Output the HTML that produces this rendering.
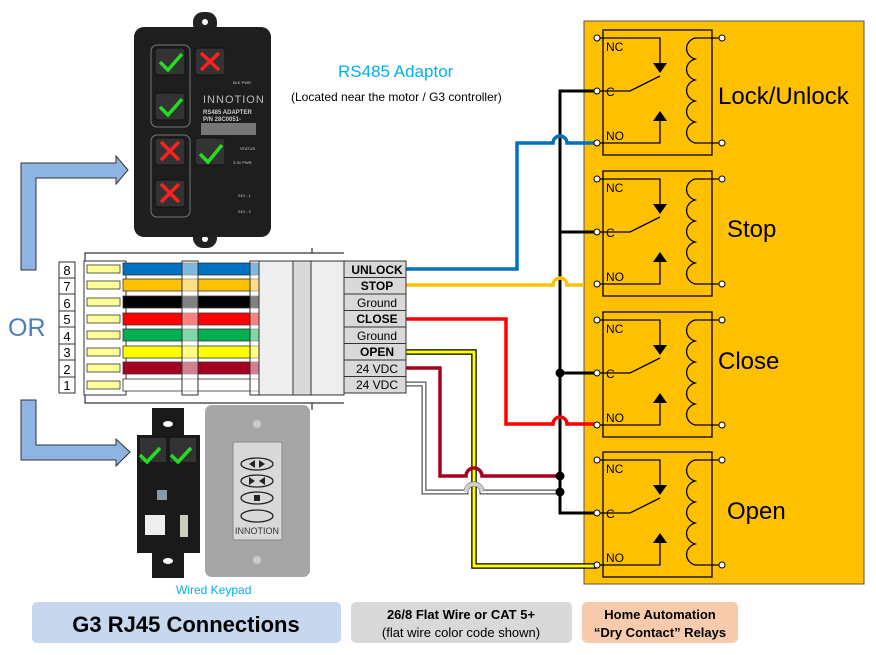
<!DOCTYPE html>
<html><head><meta charset="utf-8"><style>
html,body{margin:0;padding:0;background:#fff;}
svg{display:block;font-family:"Liberation Sans",sans-serif;}
</style></head><body>
<svg width="876" height="655" viewBox="0 0 876 655" xmlns="http://www.w3.org/2000/svg">
<defs>
<g id="relay">
  <rect x="603" y="30" width="109" height="125" fill="none" stroke="#000" stroke-width="1.3"/>
  <path d="M597 38 H660 V63" fill="none" stroke="#000" stroke-width="1.3"/>
  <polygon points="653,63 667,63 660,73" fill="#000"/>
  <path d="M597 91 H630 L660 76" fill="none" stroke="#000" stroke-width="1.3"/>
  <path d="M597 143 H660 V120" fill="none" stroke="#000" stroke-width="1.3"/>
  <polygon points="653,121 667,121 660,111" fill="#000"/>
  <path d="M722 38 H695 A12 11 0 0 0 695 59 A12 11 0 0 0 695 80 A12 11 0 0 0 695 101 A12 11 0 0 0 695 122 A12 11 0 0 0 695 143 H722" fill="none" stroke="#000" stroke-width="1.3"/>
  <text x="606" y="51" font-size="12">NC</text>
  <text x="606" y="96" font-size="12">C</text>
  <text x="606" y="140" font-size="12">NO</text>
  <circle cx="597" cy="38" r="3" fill="#fff" stroke="#000"/>
  <circle cx="597" cy="91" r="3" fill="#fff" stroke="#000"/>
  <circle cx="597" cy="143" r="3" fill="#fff" stroke="#000"/>
  <circle cx="722" cy="38" r="3" fill="#fff" stroke="#000"/>
  <circle cx="722" cy="143" r="3" fill="#fff" stroke="#000"/>
</g>
</defs>

<!-- relay panel -->
<rect x="584" y="21" width="280" height="563" fill="#ffc000" stroke="#555" stroke-width="1"/>
<text x="718" y="104" font-size="24">Lock/Unlock</text>
<text x="727" y="237" font-size="24">Stop</text>
<text x="718" y="369" font-size="24">Close</text>
<text x="727" y="519" font-size="24">Open</text>

<!-- black bus -->
<path d="M597 91 H560 V513 H597 M560 232 H597 M560 373 H597" fill="none" stroke="#000" stroke-width="3"/>

<!-- wires -->
<g fill="none" stroke-width="3.5" stroke-linejoin="miter">
  <path d="M406 269 H517 V143 H553 A7 7 0 0 1 567 143 H597" stroke="#0070c0"/>
  <path d="M406 285 H553 A7 7 0 0 1 567 285 H584" stroke="#ffc000"/>
  <path d="M406 319 H506 V424 H553 A7 7 0 0 1 567 424 H597" stroke="#ff0000"/>
  <path d="M406 352 H474 V566 H597" stroke="#000" stroke-width="5.5"/>
  <path d="M406 352 H474 V566 H597" stroke="#ffff00" stroke-width="3"/>
  <path d="M406 368 H440 V476 H466 A8 8 0 0 1 482 476 H560" stroke="#a50021"/>
  <path d="M406 384 H424 V492 H466 A8 8 0 0 1 482 492 H560" stroke="#555" stroke-width="5"/>
  <path d="M406 384 H424 V492 H466 A8 8 0 0 1 482 492 H560" stroke="#fff" stroke-width="2.5"/>
  <path d="M466 492 A8 8 0 0 1 482 492" stroke="#d0d0d0" stroke-width="4"/>
</g>
<circle cx="560" cy="373" r="4.5" fill="#000"/>
<circle cx="560" cy="476" r="4.5" fill="#000"/>
<circle cx="560" cy="492" r="4.5" fill="#000"/>

<use href="#relay"/>
<use href="#relay" transform="translate(0,141)"/>
<use href="#relay" transform="translate(0,282)"/>
<use href="#relay" transform="translate(0,422)"/>

<!-- arrows -->
<path d="M21 270 V163 H116 V156 L128 170 L116 184 V178 H36 V270 Z" fill="#8eb4e3" stroke="#333" stroke-width="1"/>
<path d="M21 400 V460 H116 V466 L130 452 L116 439 V445 H36 V400 Z" fill="#8eb4e3" stroke="#333" stroke-width="1"/>
<text x="8" y="336" font-size="25" fill="#4a7ebb">OR</text>

<!-- RS485 adapter -->
<rect x="193" y="12" width="24" height="22" rx="10" fill="#222"/>
<circle cx="205" cy="22" r="3" fill="#fff"/>
<rect x="193" y="226" width="24" height="22" rx="10" fill="#222"/>
<circle cx="205" cy="239" r="3" fill="#fff"/>
<rect x="134" y="27" width="137" height="210" rx="10" fill="#1e1e1e"/>
<rect x="151" y="45" width="39" height="82" rx="6" fill="none" stroke="#777"/>
<rect x="151" y="135" width="39" height="82" rx="6" fill="none" stroke="#777"/>
<g fill="#333" stroke="#111">
 <rect x="155" y="48" width="30" height="27" rx="3"/><rect x="195" y="48" width="30" height="27" rx="3"/>
 <rect x="155" y="93" width="30" height="27" rx="3"/><rect x="155" y="138" width="30" height="27" rx="3"/>
 <rect x="195" y="138" width="30" height="27" rx="3"/><rect x="155" y="180" width="30" height="27" rx="3"/>
</g>
<g stroke="#22dd22" stroke-width="3.5" fill="none">
 <path d="M160 62 L168 70 L182 54"/><path d="M160 107 L168 115 L182 99"/><path d="M200 154 L208 162 L222 145"/>
</g>
<g stroke="#ff2020" stroke-width="3.5">
 <path d="M201 53 L219 70 M219 53 L201 70"/><path d="M161 142 L179 160 M179 142 L161 160"/><path d="M161 184 L179 202 M179 184 L161 202"/>
</g>
<text x="203" y="103" font-size="11" fill="#bbb" letter-spacing="1">INNOTION</text>
<text x="203" y="114" font-size="6" fill="#ccc" font-weight="bold">RS485 ADAPTER</text>
<text x="203" y="121" font-size="6" fill="#ccc" font-weight="bold">P/N 28C0051-</text>
<rect x="201" y="123" width="55" height="12" fill="#777"/>
<g font-size="4" fill="#ccc"><text x="240" y="150">STATUS</text><text x="233" y="164">3.3V PWR</text><text x="238" y="197">24V - 1</text><text x="238" y="213">24V - 2</text><text x="233" y="84">BLE PWR</text></g>
<text x="338" y="77" font-size="17" fill="#00b0f0">RS485 Adaptor</text>
<text x="291" y="101" font-size="12" fill="#000">(Located near the motor / G3 controller)</text>

<!-- connector -->
<path d="M85 261 V253 H344 M85 395 V403 H344 M312 253 V248 M312 403 V410" fill="none" stroke="#333" stroke-width="1.2"/>
<rect x="84" y="261" width="42" height="134" fill="none" stroke="#333"/>
<g font-size="13" text-anchor="middle">
<g stroke="#333" fill="#fff">
<rect x="59" y="262" width="16" height="16"/><rect x="59" y="278" width="16" height="16"/><rect x="59" y="294" width="16" height="17"/><rect x="59" y="311" width="16" height="16"/><rect x="59" y="327" width="16" height="17"/><rect x="59" y="344" width="16" height="16"/><rect x="59" y="360" width="16" height="17"/><rect x="59" y="377" width="16" height="16"/>
</g>
<g fill="#000"><text x="67" y="275">8</text><text x="67" y="291">7</text><text x="67" y="308">6</text><text x="67" y="324">5</text><text x="67" y="341">4</text><text x="67" y="357">3</text><text x="67" y="374">2</text><text x="67" y="390">1</text></g>
</g>
<g fill="#ffff99" stroke="#333" stroke-width="0.8">
<rect x="87" y="265" width="33" height="8"/><rect x="87" y="281" width="33" height="8"/><rect x="87" y="298" width="33" height="8"/><rect x="87" y="315" width="33" height="8"/><rect x="87" y="331" width="33" height="8"/><rect x="87" y="348" width="33" height="8"/><rect x="87" y="364" width="33" height="8"/><rect x="87" y="381" width="33" height="8"/>
</g>
<g stroke="#333" stroke-width="0.8">
<rect x="123" y="263" width="136" height="12" fill="#0070c0"/>
<rect x="123" y="279" width="136" height="12" fill="#ffc000"/>
<rect x="123" y="296" width="136" height="12" fill="#000"/>
<rect x="123" y="313" width="136" height="12" fill="#ff0000"/>
<rect x="123" y="329" width="136" height="12" fill="#00b050"/>
<rect x="123" y="346" width="136" height="12" fill="#ffff00"/>
<rect x="123" y="362" width="136" height="12" fill="#a50021"/>
<rect x="123" y="379" width="136" height="12" fill="#fff"/>
</g>
<rect x="182" y="261" width="16" height="134" fill="#fff" fill-opacity="0.5" stroke="#333"/>
<rect x="250" y="261" width="10" height="134" fill="#fff" fill-opacity="0.5" stroke="#333"/>
<rect x="259" y="261" width="34" height="134" fill="#eee" stroke="#333"/>
<rect x="293" y="261" width="18" height="134" fill="#d9d9d9" stroke="#333"/>
<rect x="311" y="261" width="33" height="134" fill="#eee" stroke="#333"/>
<g stroke="#333" fill="#d9d9d9">
<rect x="344" y="261" width="62" height="16.5"/><rect x="344" y="277.5" width="62" height="16.5"/><rect x="344" y="294" width="62" height="16.5"/><rect x="344" y="310.5" width="62" height="16.5"/><rect x="344" y="327" width="62" height="16.5"/><rect x="344" y="343.5" width="62" height="16.5"/><rect x="344" y="360" width="62" height="16.5"/><rect x="344" y="376.5" width="62" height="16.5"/>
</g>
<g font-size="12" text-anchor="middle" fill="#000">
<text x="377" y="274" font-weight="bold">UNLOCK</text><text x="377" y="290" font-weight="bold">STOP</text><text x="377" y="307">Ground</text><text x="377" y="323" font-weight="bold">CLOSE</text><text x="377" y="340">Ground</text><text x="377" y="356" font-weight="bold">OPEN</text><text x="377" y="373">24 VDC</text><text x="377" y="389">24 VDC</text>
</g>

<!-- keypad PCB -->
<rect x="152" y="408" width="32" height="170" fill="#1a1a1a"/>
<rect x="137" y="435" width="63" height="118" fill="#1a1a1a"/>
<ellipse cx="168" cy="424" rx="5" ry="3" fill="#fff"/>
<ellipse cx="168" cy="561" rx="5" ry="3" fill="#fff"/>
<rect x="140" y="438" width="26" height="24" fill="#333"/><rect x="170" y="438" width="26" height="24" fill="#333"/>
<g stroke="#22dd22" stroke-width="3.5" fill="none"><path d="M140 455 L147 462 L160 448"/><path d="M171 455 L178 462 L191 448"/></g>
<rect x="145" y="515" width="20" height="20" fill="#eee"/>
<rect x="180" y="515" width="8" height="22" fill="#ccb"/>
<rect x="157" y="490" width="10" height="10" fill="#89a"/>
<!-- wall plate -->
<rect x="205" y="405" width="105" height="172" rx="7" fill="#a6a6a6"/>
<circle cx="257" cy="424" r="4" fill="#ccc"/><circle cx="257" cy="560" r="4" fill="#ccc"/>
<rect x="233" y="442" width="49" height="98" rx="2" fill="#d9d9d9" stroke="#888"/>
<g fill="none" stroke="#222" stroke-width="1.3">
<ellipse cx="257" cy="464" rx="16" ry="6"/><ellipse cx="257" cy="481" rx="16" ry="6"/><ellipse cx="257" cy="498" rx="16" ry="6"/><ellipse cx="257" cy="516" rx="16" ry="6"/>
</g>
<g fill="#222"><polygon points="249,464 255,460 255,468"/><polygon points="265,464 259,460 259,468"/><polygon points="249,477 255,481 249,485"/><polygon points="265,477 259,481 265,485"/><rect x="254" y="495" width="6" height="6"/></g>
<text x="257" y="534" font-size="9" text-anchor="middle" fill="#333">INNOTION</text>
<text x="176" y="594" font-size="12" fill="#00b0f0">Wired Keypad</text>

<!-- bottom labels -->
<rect x="32" y="602" width="309" height="41" rx="5" fill="#c6d7ee"/>
<text x="186" y="632" font-size="22" font-weight="bold" text-anchor="middle">G3 RJ45 Connections</text>
<rect x="351" y="602" width="221" height="41" rx="5" fill="#d9d9d9"/>
<text x="461" y="619" font-size="13" font-weight="bold" text-anchor="middle">26/8 Flat Wire or CAT 5+</text>
<text x="461" y="637" font-size="13" text-anchor="middle">(flat wire color code shown)</text>
<rect x="582" y="602" width="156" height="41" rx="5" fill="#f8cbad"/>
<text x="660" y="619" font-size="13" font-weight="bold" text-anchor="middle">Home Automation</text>
<text x="660" y="637" font-size="13" font-weight="bold" text-anchor="middle">“Dry Contact” Relays</text>
</svg>
</body></html>
